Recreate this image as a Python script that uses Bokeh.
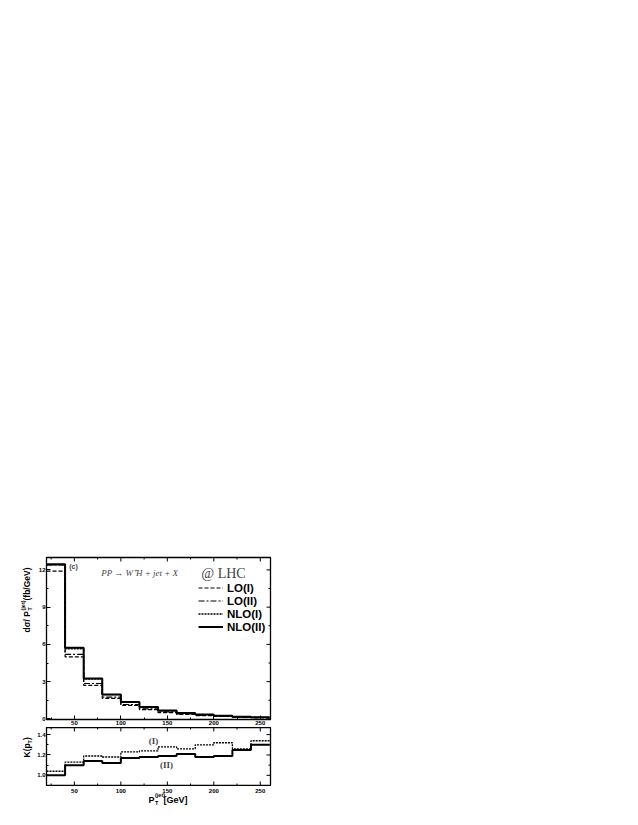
import math
from bokeh.plotting import figure
from bokeh.models import (FixedTicker, Label, Legend, LegendItem,
                          PrintfTickFormatter, Range1d)
from bokeh.core.properties import value
from bokeh.layouts import column, row
from bokeh.embed import file_html
from bokeh.resources import INLINE

# ---------------- data ----------------
bin_edges = [20, 40, 60, 80, 100, 120, 140, 160, 180, 200, 220, 240, 260]
lo_1 = [11.9, 5.0, 2.7, 1.65, 1.08, 0.74, 0.50, 0.36, 0.26, 0.19, 0.13, 0.09]
lo_2 = [12.4, 5.2, 2.85, 1.75, 1.16, 0.80, 0.56, 0.40, 0.29, 0.21, 0.14, 0.10]
nlo_1 = [12.4, 5.65, 3.2, 1.95, 1.33, 0.92, 0.64, 0.45, 0.34, 0.25, 0.17, 0.12]
nlo_2 = [12.45, 5.72, 3.25, 1.97, 1.36, 0.95, 0.67, 0.48, 0.35, 0.25, 0.18, 0.13]
k_1 = [1.04, 1.13, 1.19, 1.18, 1.23, 1.24, 1.28, 1.26, 1.30, 1.32, 1.26, 1.34]
k_2 = [1.00, 1.10, 1.14, 1.12, 1.17, 1.18, 1.19, 1.21, 1.18, 1.19, 1.25, 1.30]
x_ticks = [50, 100, 150, 200, 250]
x_tick_labels = ["50", "100", "150", "200", "250"]
x_minor = [25, 75, 125, 175, 225]
top_y_ticks = [0, 3, 6, 9, 12]
top_y_minor = [1.5, 4.5, 7.5, 10.5]
bot_y_ticks = [1.0, 1.2, 1.4]
bot_y_minor = [1.1, 1.3]

SANS = "Liberation Sans"
SERIF = "Liberation Serif"
FW = 224          # frame width of both panels
LW = 34           # width of the strip that holds the rotated axis titles
ML = 12           # left border of the panels (holds the y tick labels)
x_range = Range1d(20, 261)


def step_y(vals):
    return list(vals) + [vals[-1]]


def style_axis(ax, ticks, minor, fmt=None):
    ax.ticker = FixedTicker(ticks=ticks, minor_ticks=minor)
    ax.major_tick_in = 4
    ax.major_tick_out = 0
    ax.minor_tick_in = 2
    ax.minor_tick_out = 0
    ax.axis_line_color = "black"
    ax.major_tick_line_color = "black"
    ax.minor_tick_line_color = "black"
    ax.major_label_text_font = SANS
    ax.major_label_text_font_style = "bold"
    ax.major_label_text_color = "black"
    ax.major_label_text_font_size = "6px"
    ax.major_label_standoff = 1
    if fmt is not None:
        ax.formatter = fmt


def make_fig(fh, y0, y1, mbt, mbb):
    p = figure(frame_width=FW, frame_height=fh, x_range=x_range,
               y_range=Range1d(y0, y1), output_backend="svg",
               toolbar_location=None, min_border_left=ML,
               min_border_right=10, min_border_top=mbt,
               min_border_bottom=mbb)
    p.xgrid.visible = False
    p.ygrid.visible = False
    p.outline_line_color = "black"
    p.outline_line_width = 1.3
    p.background_fill_color = "white"
    p.border_fill_color = "white"
    return p


def ticks_h(p, xt, xm, y, ang):
    p.ray(x=xt, y=y, length=4, angle=ang, length_units="screen",
          line_color="black", line_width=1)
    p.ray(x=xm, y=y, length=2, angle=ang, length_units="screen",
          line_color="black", line_width=1)


def ticks_v(p, yt, ym, x, ang):
    p.ray(x=x, y=yt, length=4, angle=ang, length_units="screen",
          line_color="black", line_width=1)
    p.ray(x=x, y=ym, length=2, angle=ang, length_units="screen",
          line_color="black", line_width=1)


def page_x(px):
    """page pixel x -> data x of the shared x range"""
    return x_range.start + (px - LW - ML) * (x_range.end - x_range.start) / FW


# ---------------- top panel ----------------
H1 = 162
p1 = make_fig(H1, -0.05, 13.0, 557, 0)
style_axis(p1.xaxis[0], x_ticks, x_minor)
style_axis(p1.yaxis[0], top_y_ticks, top_y_minor)
ticks_h(p1, x_ticks, x_minor, p1.y_range.end, -math.pi / 2)
ticks_v(p1, top_y_ticks, top_y_minor, x_range.end, math.pi)

r_lo1 = p1.step(bin_edges, step_y(lo_1), mode="after", line_color="black",
                line_width=1.2, line_dash="4 2")
r_lo2 = p1.step(bin_edges, step_y(lo_2), mode="after", line_color="black",
                line_width=1.2, line_dash="6 2 2 2")
r_nlo1 = p1.step(bin_edges, step_y(nlo_1), mode="after", line_color="black",
                 line_width=1.3, line_dash="2 1")
r_nlo2 = p1.step(bin_edges, step_y(nlo_2), mode="after", line_color="black",
                 line_width=2.0)

legend = Legend(items=[LegendItem(label="LO(I)", renderers=[r_lo1]),
                       LegendItem(label="LO(II)", renderers=[r_lo2]),
                       LegendItem(label="NLO(I)", renderers=[r_nlo1]),
                       LegendItem(label="NLO(II)", renderers=[r_nlo2])],
                location=(152, 86), glyph_width=25, glyph_height=13,
                label_height=13, label_standoff=4, spacing=0, padding=0,
                margin=0, border_line_color=None, background_fill_alpha=0,
                label_text_font=SANS, label_text_font_style="bold",
                label_text_font_size="11.5px", label_text_color="black")
p1.add_layout(legend, "center")

p1.add_layout(Label(x=44.4, y=12.28, text="(c)", text_font=SANS,
                    text_font_style="bold", text_font_size="7px",
                    text_baseline="middle", text_align="left"))
p1.add_layout(Label(x=78.8, y=11.74, text="PP \u2192 W\u207AH + jet + X",
                    text_font=SERIF, text_font_style="italic",
                    text_font_size="9px", text_baseline="middle",
                    text_align="left"))
p1.add_layout(Label(x=186.5, y=11.74, text="@ LHC", text_font=SERIF,
                    text_font_size="14px", text_baseline="middle",
                    text_align="left"))

# ---------------- bottom panel ----------------
H2 = 58
p2 = make_fig(H2, 0.90, 1.47, 0, 1)
p2.xaxis.visible = False
style_axis(p2.yaxis[0], bot_y_ticks, bot_y_minor,
           PrintfTickFormatter(format="%.1f"))
ticks_h(p2, x_ticks, x_minor, p2.y_range.end, -math.pi / 2)
ticks_h(p2, x_ticks, x_minor, p2.y_range.start, math.pi / 2)
ticks_v(p2, bot_y_ticks, bot_y_minor, x_range.end, math.pi)

p2.step(bin_edges, step_y(k_1), mode="after", line_color="black",
        line_width=1.3, line_dash="2 1")
p2.step(bin_edges, step_y(k_2), mode="after", line_color="black",
        line_width=2.0)

p2.add_layout(Label(x=135, y=1.337, text="(I)", text_font=SERIF,
                    text_font_style="bold", text_font_size="9px",
                    text_baseline="middle", text_align="center"))
p2.add_layout(Label(x=149, y=1.10, text="(II)", text_font=SERIF,
                    text_font_style="bold", text_font_size="9px",
                    text_baseline="middle", text_align="center"))

# ---------------- strip under the bottom panel: x tick labels + title ----
XT_H = 24
xt = figure(frame_width=FW, frame_height=XT_H, x_range=x_range,
            y_range=Range1d(XT_H, 0), output_backend="svg",
            toolbar_location=None, min_border_left=ML, min_border_right=10,
            min_border_top=0, min_border_bottom=0, x_axis_type=None,
            y_axis_type=None, outline_line_color=None)
xt.xgrid.visible = False
xt.ygrid.visible = False
xt.text(x=x_ticks, y=4, text=x_tick_labels, text_font=value(SANS),
        text_font_style="bold", text_font_size="6px", text_align="center",
        text_baseline="middle", text_color="black")
for (txt, px, py, size) in [("P", 148, 13, "9px"), ("T", 154.5, 16.5, "5.5px"),
                            ("(jet)", 154.5, 8.5, "5.5px"),
                            ("[GeV]", 163, 13, "9px")]:
    xt.text(x=[page_x(px)], y=[py], text=[txt], text_font=value(SANS),
            text_font_style="bold", text_font_size=size, text_align="left",
            text_baseline="middle", text_color="black")

# ---------------- left strip: rotated y-axis titles ----------------
LH = 800
lf = figure(frame_width=LW, frame_height=LH, x_range=Range1d(0, LW),
            y_range=Range1d(LH, 0), output_backend="svg",
            toolbar_location=None, min_border_left=0, min_border_right=0,
            min_border_top=0, min_border_bottom=0, x_axis_type=None,
            y_axis_type=None, outline_line_color=None)
lf.xgrid.visible = False
lf.ygrid.visible = False
A = math.pi / 2
for (txt, px, py, size) in [("d\u03c3/ P", 26, 632, "8.5px"),
                            ("T", 29.5, 610, "5.5px"),
                            ("(jet)", 22.5, 610, "5.5px"),
                            ("(fb/GeV)", 26, 600, "8.5px"),
                            ("K(p", 26, 757, "8.5px"),
                            ("T", 29.5, 743, "5.5px"),
                            (")", 26, 739.5, "8.5px")]:
    lf.text(x=[px], y=[py], text=[txt], angle=A, text_font=value(SANS),
            text_font_style="bold", text_font_size=size, text_align="left",
            text_baseline="middle", text_color="black")

layout = row(lf, column(p1, p2, xt, spacing=0), spacing=0)
open("out.html", "w").write(file_html(layout, INLINE))
